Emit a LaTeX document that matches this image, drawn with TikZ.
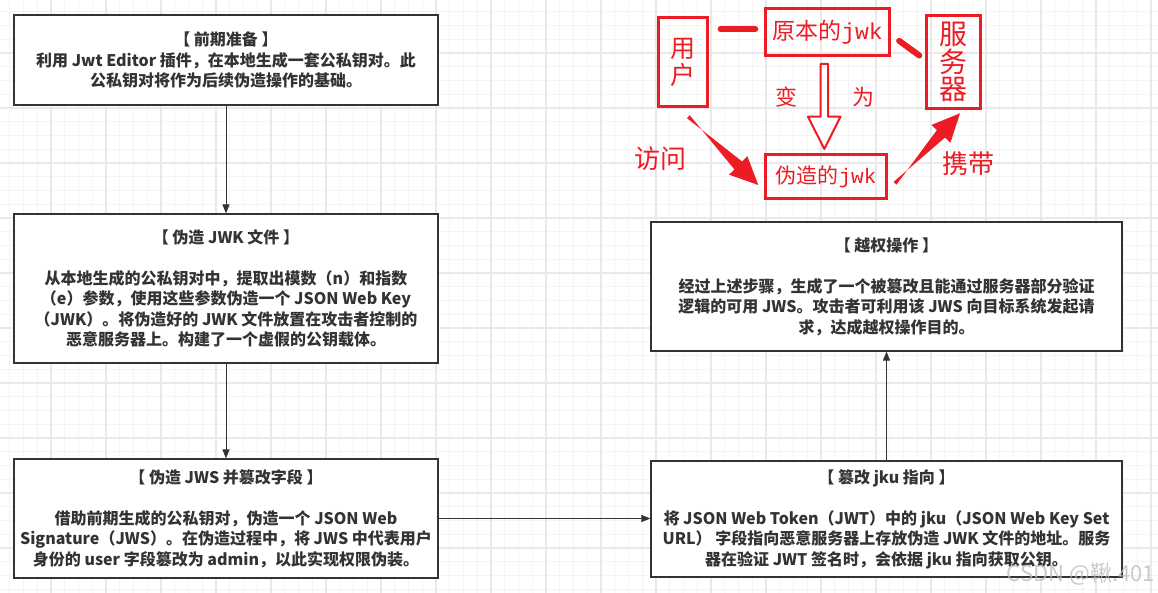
\documentclass[tikz,border=0pt]{standalone}
\usepackage{fontspec}
\setmainfont{Noto Sans CJK SC}
\newfontfamily\jwkmono{Liberation Mono}
\usetikzlibrary{arrows.meta,calc}
\definecolor{ink}{HTML}{333333}
\definecolor{pred}{HTML}{ED1C24}
\definecolor{gminor}{HTML}{F4F4F4}
\definecolor{gmajor}{HTML}{E9E9E9}
\begin{document}
\begin{tikzpicture}[x=1pt,y=-1pt,
  stepbox/.style={draw=ink, line width=1.2pt, fill=white, align=center, text=ink,
    font=\fontsize{16}{20.5}\selectfont\bfseries, inner sep=0pt},
  flow/.style={draw=ink, line width=1pt, -{Triangle[length=9pt,width=7pt]}},
  redbox/.style={draw=pred, line width=3pt, text=pred, inner sep=0pt, align=center},
  redtxt/.style={text=pred, inner sep=0pt},
  redfill/.style={fill=pred, draw=none}
]
\useasboundingbox (0,0) rectangle (1158,593);
\fill[white] (0,0) rectangle (1158,593);
% grid
\foreach \x in {9.75,23.5,...,1158} {\draw[gminor,line width=1pt] (\x,0) -- (\x,593);}
\foreach \y in {11.75,25.5,...,593} {\draw[gminor,line width=1pt] (0,\y) -- (1158,\y);}
\foreach \x in {51,106,...,1158} {\draw[gmajor,line width=1.2pt] (\x,0) -- (\x,593);}
\foreach \y in {53,108,...,593} {\draw[gmajor,line width=1.2pt] (0,\y) -- (1158,\y);}

% flow boxes
\node[stepbox, minimum width=424pt, minimum height=90pt] (b1) at (226,60)
 {【 前期准备 】\\利用 Jwt Editor 插件，在本地生成一套公私钥对。此\\公私钥对将作为后续伪造操作的基础。};
\node[stepbox, minimum width=424pt, minimum height=149pt] (b2) at (226,288.5)
 {【 伪造 JWK 文件 】\\[20.5pt]从本地生成的公私钥对中，提取出模数（n）和指数\\（e）参数，使用这些参数伪造一个 JSON Web Key\\（JWK）。将伪造好的 JWK 文件放置在攻击者控制的\\恶意服务器上。构建了一个虚假的公钥载体。};
\node[stepbox, minimum width=424pt, minimum height=119pt] (b3) at (226,518.5)
 {【 伪造 JWS 并篡改字段 】\\[20.5pt]借助前期生成的公私钥对，伪造一个 JSON Web\\Signature（JWS）。在伪造过程中，将 JWS 中代表用户\\身份的 user 字段篡改为 admin，以此实现权限伪装。};
\node[stepbox, minimum width=471pt, minimum height=116pt] (b4) at (886.5,519)
 {【 篡改 jku 指向 】\\[20.5pt]将 JSON Web Token（JWT）中的 jku（JSON Web Key Set\\URL） 字段指向恶意服务器上存放伪造 JWK 文件的地址。服务\\器在验证 JWT 签名时，会依据 jku 指向获取公钥。};
\node[stepbox, minimum width=471pt, minimum height=129pt] (b5) at (886.5,286.5)
 {【 越权操作 】\\[20.5pt]经过上述步骤，生成了一个被篡改且能通过服务器部分验证\\逻辑的可用 JWS。攻击者可利用该 JWS 向目标系统发起请\\求，达成越权操作目的。};

\draw[flow] (b1) -- (b2);
\draw[flow] (b2) -- (b3);
\draw[flow] (b3.east) -- (b4.west |- b3.east);
\draw[flow] (b4) -- (b5);

% red annotation
\node[redbox, minimum width=48.7pt, minimum height=89.6pt, font=\fontsize{25}{27}\selectfont] (user) at (683.2,62) {用\\户};
\node[redbox, minimum width=123.4pt, minimum height=46.4pt, font=\fontsize{23}{23}\selectfont] (orig) at (827.5,32) {原本的{\jwkmono jwk}};
\node[redbox, minimum width=54.3pt, minimum height=93pt, font=\fontsize{28}{27.5}\selectfont] (server) at (953.7,62) {服\\务\\器};
\node[redbox, minimum width=120.4pt, minimum height=43.7pt, font=\fontsize{21}{21}\selectfont] (fake) at (826,176.7) {伪造的{\jwkmono jwk}};

\draw[pred, line width=6pt, line cap=round, shorten <=11.5pt, shorten >=9pt]
  ([yshift=2.7pt]user.east |- orig.west) -- ([yshift=2.7pt]orig.west);
\coordinate (oa) at (899.1,40.8);
\coordinate (ob) at (919.3,55.5);
\draw[pred, line width=6pt, line cap=round] (oa) -- (ob);

% hollow arrow
\draw[pred, line width=2pt, fill=white, line join=round]
  (820.6,64) -- (828,64) -- (828,116.7) -- (840.5,116.7) -- (824.3,149) -- (808,116.7) -- (820.6,116.7) -- cycle;

% tapered arrows
\coordinate (t1) at (688.3,116.7);
\coordinate (p1) at (758.3,185);
\coordinate (h1) at ($(p1)!28pt!(t1)$);
\fill[redfill] ($(t1)!2pt!90:(p1)$) -- ($(t1)!2pt!-90:(p1)$) -- ($(h1)!5.5pt!90:(p1)$) -- ($(h1)!13pt!90:(p1)$)
  -- (p1) -- ($(h1)!13pt!-90:(p1)$) -- ($(h1)!5.5pt!-90:(p1)$) -- cycle;
\coordinate (t2) at (895,183.3);
\coordinate (p2) at (960,113.3);
\coordinate (h2) at ($(p2)!28pt!(t2)$);
\fill[redfill] ($(t2)!2pt!90:(p2)$) -- ($(t2)!2pt!-90:(p2)$) -- ($(h2)!5.5pt!90:(p2)$) -- ($(h2)!13pt!90:(p2)$)
  -- (p2) -- ($(h2)!13pt!-90:(p2)$) -- ($(h2)!5.5pt!-90:(p2)$) -- cycle;

\node[redtxt, font=\fontsize{22}{22}\selectfont] (bian) at (786.7,96.7) {变};
\node[redtxt, font=\fontsize{22}{22}\selectfont] (wei) at (863.3,96.7) {为};
\node[redtxt, font=\fontsize{26}{26}\selectfont] (fangwen) at (660,158.3) {访问};
\node[redtxt, font=\fontsize{26}{26}\selectfont] (xiedai) at (968.3,163.3) {携带};

% watermark
\node[anchor=east, inner sep=0pt, text=gray!55, opacity=0.75, font=\fontsize{22}{22}\selectfont] (wm) at (1155,574) {CSDN @鞦.401};
\end{tikzpicture}
\end{document}
